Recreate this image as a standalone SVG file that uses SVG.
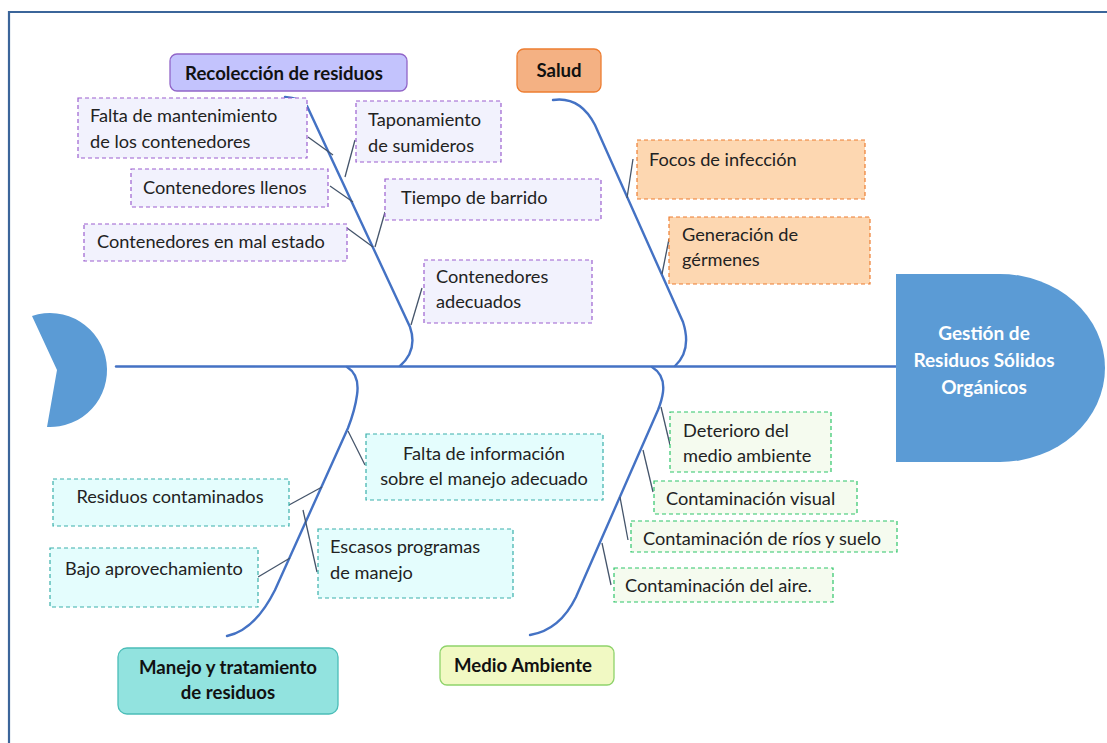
<svg xmlns="http://www.w3.org/2000/svg" width="1107" height="743" viewBox="0 0 1107 743">
<style>
text{font-family:Lato,"Open Sans","Liberation Sans",sans-serif;font-size:18.2px;fill:#222}
.cat{font-weight:bold;fill:#111;text-anchor:middle;font-size:18.6px}
.head{font-weight:bold;fill:#fff;text-anchor:middle;font-size:19px}
.bone{fill:none;stroke:#4472c4;stroke-width:2.4;stroke-linecap:round}
.sub{fill:none;stroke:#44546a;stroke-width:1.3}
.p{fill:#f2f2fd;stroke:#9b5fcf;stroke-width:1.2;stroke-dasharray:4 3}
.o{fill:#fdd7b1;stroke:#ed7d31;stroke-width:1.2;stroke-dasharray:4 3}
.g{fill:#f5fbef;stroke:#2fc56a;stroke-width:1.2;stroke-dasharray:4 3}
.c{fill:#e4fdfd;stroke:#3ab0ab;stroke-width:1.2;stroke-dasharray:4 3}
.mid{text-anchor:middle}
</style>
<rect x="0" y="0" width="1107" height="743" fill="#fff"/>
<g id="frame" fill="none" stroke="#3b659a" stroke-width="2.2">
<path d="M9,743 V12 H1107"/>
</g>
<g id="connectors">
<path class="bone" d="M116,366.5 H897"/>
<path class="bone" d="M285,97 Q300,98 307,106 L410,327 Q418,350 400,366"/>
<path class="bone" d="M553,100 Q580,96 595,125 L683,322 Q692,350 675,366"/>
<path class="bone" d="M347,367 Q360,375 357,395 Q355,410 348,428 L275,590 Q255,630 227,636"/>
<path class="bone" d="M652,367 Q665,375 663,392 Q662,400 658,410 L576,597 Q560,630 530,635"/>
<path class="sub" d="M308,137 L333,155"/>
<path class="sub" d="M355,140 L345,177"/>
<path class="sub" d="M330,186 L353,202"/>
<path class="sub" d="M385,212 L375,247"/>
<path class="sub" d="M347,228 L373,247"/>
<path class="sub" d="M422,288 L411,325"/>
<path class="sub" d="M633,159 L627,198"/>
<path class="sub" d="M669,239 L662,274"/>
<path class="sub" d="M348,431 L365,465"/>
<path class="sub" d="M289,505 L322,487"/>
<path class="sub" d="M303,510 L317,572"/>
<path class="sub" d="M258,577 L290,558"/>
<path class="sub" d="M661,407 L670,445"/>
<path class="sub" d="M643,450 L653,492"/>
<path class="sub" d="M620,497 L628,540"/>
<path class="sub" d="M602,543 L611,585"/>
</g>
<g id="tail"><path d="M32,316 A57,57 0 1 1 47,427 L57,370 Z" fill="#5b9bd5"/></g>
<g id="head">
<path d="M896,274 H1000 A105,94 0 0 1 1000,462 H896 Z" fill="#5b9bd5"/>
<text class="head" x="984" y="340">Gestión de</text>
<text class="head" x="984" y="367">Residuos Sólidos</text>
<text class="head" x="984" y="394">Orgánicos</text>
</g>
<g id="cat-recoleccion">
<rect x="170" y="54" width="237" height="37" rx="7" fill="#c3c3fd" stroke="#9165c8" stroke-width="1.3"/>
<text class="cat" x="284" y="80">Recolección de residuos</text>
</g>
<g id="cat-salud">
<rect x="517" y="49" width="84" height="43" rx="7" fill="#f4b183" stroke="#ed7d31" stroke-width="1.3"/>
<text class="cat" x="559" y="77">Salud</text>
</g>
<g id="cat-manejo">
<rect x="118" y="648" width="220" height="66" rx="9" fill="#92e3df" stroke="#4bbdb8" stroke-width="1.3"/>
<text class="cat" x="228" y="674">Manejo y tratamiento</text>
<text class="cat" x="228" y="699">de residuos</text>
</g>
<g id="cat-medio">
<rect x="440" y="646" width="174" height="39" rx="7" fill="#f1f9c3" stroke="#8fd36b" stroke-width="1.3"/>
<text class="cat" x="523" y="672">Medio Ambiente</text>
</g>
<g id="n-falta-mant">
<rect class="p" x="78" y="98" width="229" height="60"/>
<text x="90" y="122">Falta de mantenimiento</text>
<text x="90" y="148">de los contenedores</text>
</g>
<g id="n-taponamiento">
<rect class="p" x="356" y="101" width="145" height="61"/>
<text x="368" y="126">Taponamiento</text>
<text x="368" y="152">de sumideros</text>
</g>
<g id="n-llenos">
<rect class="p" x="131" y="169" width="197" height="38"/>
<text x="143" y="194">Contenedores llenos</text>
</g>
<g id="n-barrido">
<rect class="p" x="385" y="179" width="216" height="41"/>
<text x="401" y="204">Tiempo de barrido</text>
</g>
<g id="n-mal-estado">
<rect class="p" x="84" y="224" width="263" height="37"/>
<text x="97" y="248">Contenedores en mal estado</text>
</g>
<g id="n-adecuados">
<rect class="p" x="424" y="260" width="168" height="63"/>
<text x="436" y="283">Contenedores</text>
<text x="436" y="308">adecuados</text>
</g>
<g id="n-focos">
<rect class="o" x="637" y="140" width="228" height="59"/>
<text x="649" y="166">Focos de infección</text>
</g>
<g id="n-germenes">
<rect class="o" x="669" y="217" width="201" height="67"/>
<text x="682" y="241">Generación de</text>
<text x="682" y="266">gérmenes</text>
</g>
<g id="n-deterioro">
<rect class="g" x="670" y="412" width="161" height="60"/>
<text x="683" y="437">Deterioro del</text>
<text x="683" y="462">medio ambiente</text>
</g>
<g id="n-visual">
<rect class="g" x="654" y="481" width="203" height="33"/>
<text x="666" y="505">Contaminación visual</text>
</g>
<g id="n-rios">
<rect class="g" x="631" y="521" width="266" height="31"/>
<text x="643" y="545">Contaminación de ríos y suelo</text>
</g>
<g id="n-aire">
<rect class="g" x="614" y="568" width="219" height="34"/>
<text x="625" y="592">Contaminación del aire.</text>
</g>
<g id="n-falta-info">
<rect class="c" x="366" y="434" width="237" height="66"/>
<text class="mid" x="484" y="460">Falta de información</text>
<text class="mid" x="484" y="485">sobre el manejo adecuado</text>
</g>
<g id="n-residuos-cont">
<rect class="c" x="53" y="479" width="236" height="47"/>
<text class="mid" x="170" y="503">Residuos contaminados</text>
</g>
<g id="n-bajo">
<rect class="c" x="50" y="548" width="208" height="59"/>
<text class="mid" x="154" y="575">Bajo aprovechamiento</text>
</g>
<g id="n-escasos">
<rect class="c" x="318" y="529" width="195" height="69"/>
<text x="330" y="553">Escasos programas</text>
<text x="330" y="579">de manejo</text>
</g>
</svg>
